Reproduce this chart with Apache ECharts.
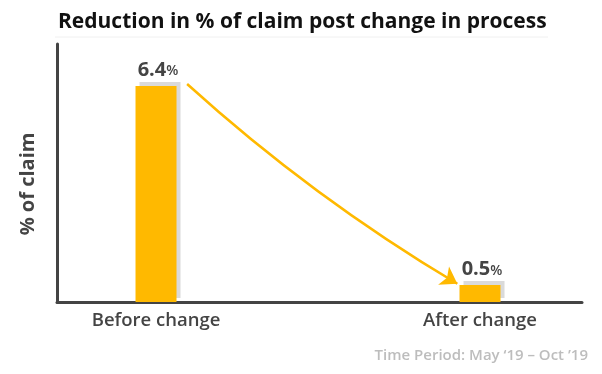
<!DOCTYPE html>
<html>
<head>
<meta charset="utf-8">
<script src="https://cdn.jsdelivr.net/npm/echarts@6/dist/echarts.min.js"></script>
<style>html,body{margin:0;padding:0;background:#fff}#c{width:602px;height:374px}</style>
</head>
<body>
<div id="c"></div>
<script>
const titleText = 'Reduction in % of claim post change in process';
const categories = ['Before change', 'After change'];
const positions = [0, 1];
const values = [6.4, 0.5];
const yAxisName = '% of claim';
const footnote = 'Time Period: May \u201819 \u2013 Oct \u201919';

const FONT = 'Open Sans';
const YELLOW = '#FFB900';
const DARK = '#444444';

const chart = echarts.init(document.getElementById('c'), null, {renderer: 'canvas'});

const barData = positions.map((p, i) => [p, values[i]]);

const option = {
  animation: false,
  backgroundColor: '#fff',
  title: {
    text: titleText,
    left: 53, top: 7,
    textStyle: {fontFamily: FONT, fontSize: 21, fontWeight: 'bold', color: '#111'}
  },
  graphic: [
    {type: 'line', shape: {x1: 55, y1: 37, x2: 548, y2: 37}, style: {stroke: '#f0f0f0', lineWidth: 1}, silent: true},
    {type: 'text', right: 14, top: 348, style: {text: footnote, fill: '#bdbdbd', font: '600 15px "' + FONT + '"'}}
  ],
  grid: {left: 57, right: 20, top: 44, bottom: 72},
  xAxis: {
    type: 'value',
    min: -0.3056, max: 1.3148,
    splitLine: {show: false},
    axisTick: {show: false},
    axisLine: {show: true, onZero: false, lineStyle: {color: DARK, width: 3}},
    axisLabel: {
      customValues: positions,
      formatter: v => categories[Math.round(v)] || '',
      fontFamily: FONT, fontSize: 18.5, fontWeight: 600, color: DARK, margin: 9
    }
  },
  yAxis: {
    type: 'value', min: 0, max: 7.644,
    splitLine: {show: false},
    axisTick: {show: false},
    axisLabel: {show: false},
    axisLine: {show: true, onZero: false, lineStyle: {color: DARK, width: 3}},
    name: yAxisName,
    nameLocation: 'middle',
    nameGap: 19,
    nameTextStyle: {fontFamily: FONT, fontSize: 20, fontWeight: 'bold', color: DARK, padding: [0, 22, 0, 0]}
  },
  series: [
    {
      type: 'bar',
      data: barData,
      barWidth: 41,
      itemStyle: {
        color: YELLOW,
        shadowColor: '#dadada', shadowBlur: 0, shadowOffsetX: 4, shadowOffsetY: -4
      },
      label: {
        show: true, position: 'top', distance: 6, offset: [2, 0],
        formatter: p => '{v|' + p.value[1] + '}{p|%}',
        rich: {
          v: {fontFamily: FONT, fontSize: 20, fontWeight: 'bold', color: DARK},
          p: {fontFamily: FONT, fontSize: 14, fontWeight: 600, color: DARK, padding: [3, 0, 0, 0]}
        }
      }
    },
    {
      type: 'lines',
      coordinateSystem: 'cartesian2d',
      silent: true,
      symbol: ['none', 'arrow'],
      symbolSize: 16,
      lineStyle: {color: YELLOW, width: 2.5, curveness: -0.05, opacity: 1},
      data: [{coords: [[positions[0] + 0.096, values[0] + 0.06], [positions[1] - 0.07, values[1] + 0.04]]}]
    }
  ]
};
chart.setOption(option);
</script>
</body>
</html>
